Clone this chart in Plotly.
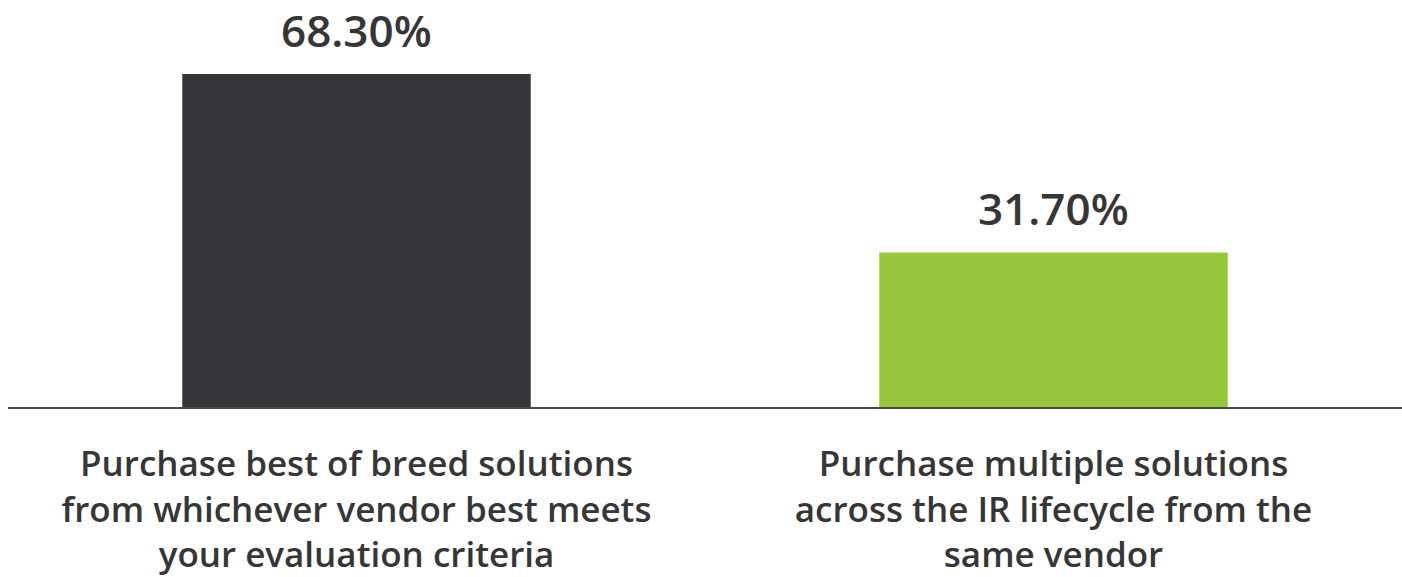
import plotly.graph_objects as go

categories = [
    "Purchase best of breed solutions<br>from whichever vendor best meets<br>your evaluation criteria",
    "Purchase multiple solutions<br>across the IR lifecycle from the<br>same vendor",
]
values = [68.30, 31.70]
value_labels = ["68.30%", "31.70%"]
colors = ["#36373b", "#97c73d"]

FONT = "Open Sans"
TEXT_COLOR = "#363636"

fig = go.Figure()
fig.add_trace(go.Bar(
    x=categories,
    y=values,
    marker=dict(color=colors, line=dict(width=0)),
    hoverinfo="skip",
))

for cat, val, lab in zip(categories, values, value_labels):
    fig.add_annotation(
        x=cat, y=val, text=lab, showarrow=False,
        yanchor="bottom", yshift=13, borderpad=0,
        font=dict(family=FONT, size=44, color=TEXT_COLOR, weight=600),
    )

fig.update_layout(
    width=1402, height=577,
    margin=dict(l=8, r=0, t=0, b=170),
    paper_bgcolor="white", plot_bgcolor="white",
    bargap=0.5,
    showlegend=False,
    xaxis=dict(
        showline=True, linecolor="#4a4a4a", linewidth=2,
        showgrid=False, zeroline=False, ticks="",
        tickfont=dict(family=FONT, size=35, color=TEXT_COLOR, weight=600),
        ticklabelstandoff=25,
    ),
    yaxis=dict(
        range=[0, 83.5], visible=False, showgrid=False, zeroline=False,
    ),
)

fig.write_html("out.html")
